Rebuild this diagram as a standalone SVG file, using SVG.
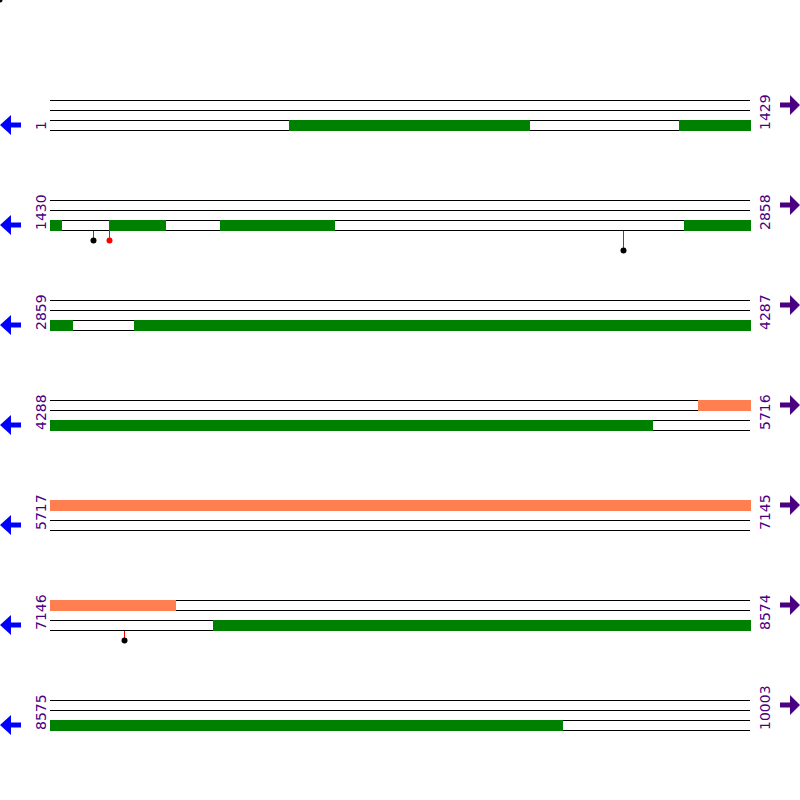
<svg xmlns="http://www.w3.org/2000/svg" width="800" height="800" viewBox="0 0 800 800">
<style>
.ln{stroke:#000;stroke-width:1;fill:none}
.g{fill:#008000}
.c{fill:#FF7F50}
.lbl{font-family:"DejaVu Sans",sans-serif;font-size:14px;fill:#4B0082}
.la{fill:#0000FF}
.ra{fill:#4B0082}
.stem{stroke:#FF0000;stroke-width:1}
</style>
<defs>
<path id="larr" class="la" d="M0,0 L11,-10 L11,-2.5 L21,-2.5 L21,2.5 L11,2.5 L11,10 Z"/>
<path id="rarr" class="ra" d="M800,0 L790,-10 L790,-2.5 L780,-2.5 L780,2.5 L790,2.5 L790,10 Z"/>
<g id="lines">
<line class="ln" x1="50" y1="0.5" x2="750" y2="0.5"/>
<line class="ln" x1="50" y1="10.5" x2="750" y2="10.5"/>
<line class="ln" x1="50" y1="20.5" x2="750" y2="20.5"/>
<line class="ln" x1="50" y1="30.5" x2="750" y2="30.5"/>
</g>
</defs>
<circle cx="0" cy="0" r="2.5" fill="#000"/>
<g id="connectors">
<line class="stem" x1="93.5" y1="231" x2="93.5" y2="240"/>
<line class="stem" x1="109.5" y1="231" x2="109.5" y2="240"/>
<line class="stem" x1="623.5" y1="231" x2="623.5" y2="250"/>
<line class="stem" x1="124.5" y1="631" x2="124.5" y2="640"/>
</g>
<g id="row1">
<use href="#lines" y="100"/>
<rect class="g" x="289" y="120" width="241" height="11"/>
<rect class="g" x="679" y="120" width="72" height="11"/>
<use href="#larr" y="125"/>
<use href="#rarr" y="105"/>
<text class="lbl" transform="translate(46,130) rotate(-90)">1</text>
<text class="lbl" transform="translate(770,130) rotate(-90)">1429</text>
</g>
<g id="row2">
<use href="#lines" y="200"/>
<rect class="g" x="50" y="220" width="12" height="11"/>
<rect class="g" x="109" y="220" width="57" height="11"/>
<rect class="g" x="220" y="220" width="115" height="11"/>
<rect class="g" x="684" y="220" width="67" height="11"/>
<use href="#larr" y="225"/>
<use href="#rarr" y="205"/>
<text class="lbl" transform="translate(46,230) rotate(-90)">1430</text>
<text class="lbl" transform="translate(770,230) rotate(-90)">2858</text>
<circle cx="93.5" cy="240.5" r="3" fill="#000"/>
<circle cx="109.5" cy="240.5" r="3" fill="#FF0000"/>
<circle cx="623.5" cy="250.5" r="3" fill="#000"/>
</g>
<g id="row3">
<use href="#lines" y="300"/>
<rect class="g" x="50" y="320" width="23" height="11"/>
<rect class="g" x="134" y="320" width="617" height="11"/>
<use href="#larr" y="325"/>
<use href="#rarr" y="305"/>
<text class="lbl" transform="translate(46,330) rotate(-90)">2859</text>
<text class="lbl" transform="translate(770,330) rotate(-90)">4287</text>
</g>
<g id="row4">
<use href="#lines" y="400"/>
<rect class="c" x="698" y="400" width="53" height="11"/>
<rect class="g" x="50" y="420" width="603" height="11"/>
<use href="#larr" y="425"/>
<use href="#rarr" y="405"/>
<text class="lbl" transform="translate(46,430) rotate(-90)">4288</text>
<text class="lbl" transform="translate(770,430) rotate(-90)">5716</text>
</g>
<g id="row5">
<use href="#lines" y="500"/>
<rect class="c" x="50" y="500" width="701" height="11"/>
<use href="#larr" y="525"/>
<use href="#rarr" y="505"/>
<text class="lbl" transform="translate(46,530) rotate(-90)">5717</text>
<text class="lbl" transform="translate(770,530) rotate(-90)">7145</text>
</g>
<g id="row6">
<use href="#lines" y="600"/>
<rect class="c" x="50" y="600" width="126" height="11"/>
<rect class="g" x="213" y="620" width="538" height="11"/>
<use href="#larr" y="625"/>
<use href="#rarr" y="605"/>
<text class="lbl" transform="translate(46,630) rotate(-90)">7146</text>
<text class="lbl" transform="translate(770,630) rotate(-90)">8574</text>
<circle cx="124.5" cy="640.5" r="3" fill="#000"/>
</g>
<g id="row7">
<use href="#lines" y="700"/>
<rect class="g" x="50" y="720" width="513" height="11"/>
<use href="#larr" y="725"/>
<use href="#rarr" y="705"/>
<text class="lbl" transform="translate(46,730) rotate(-90)">8575</text>
<text class="lbl" transform="translate(770,730) rotate(-90)">10003</text>
</g>
</svg>
